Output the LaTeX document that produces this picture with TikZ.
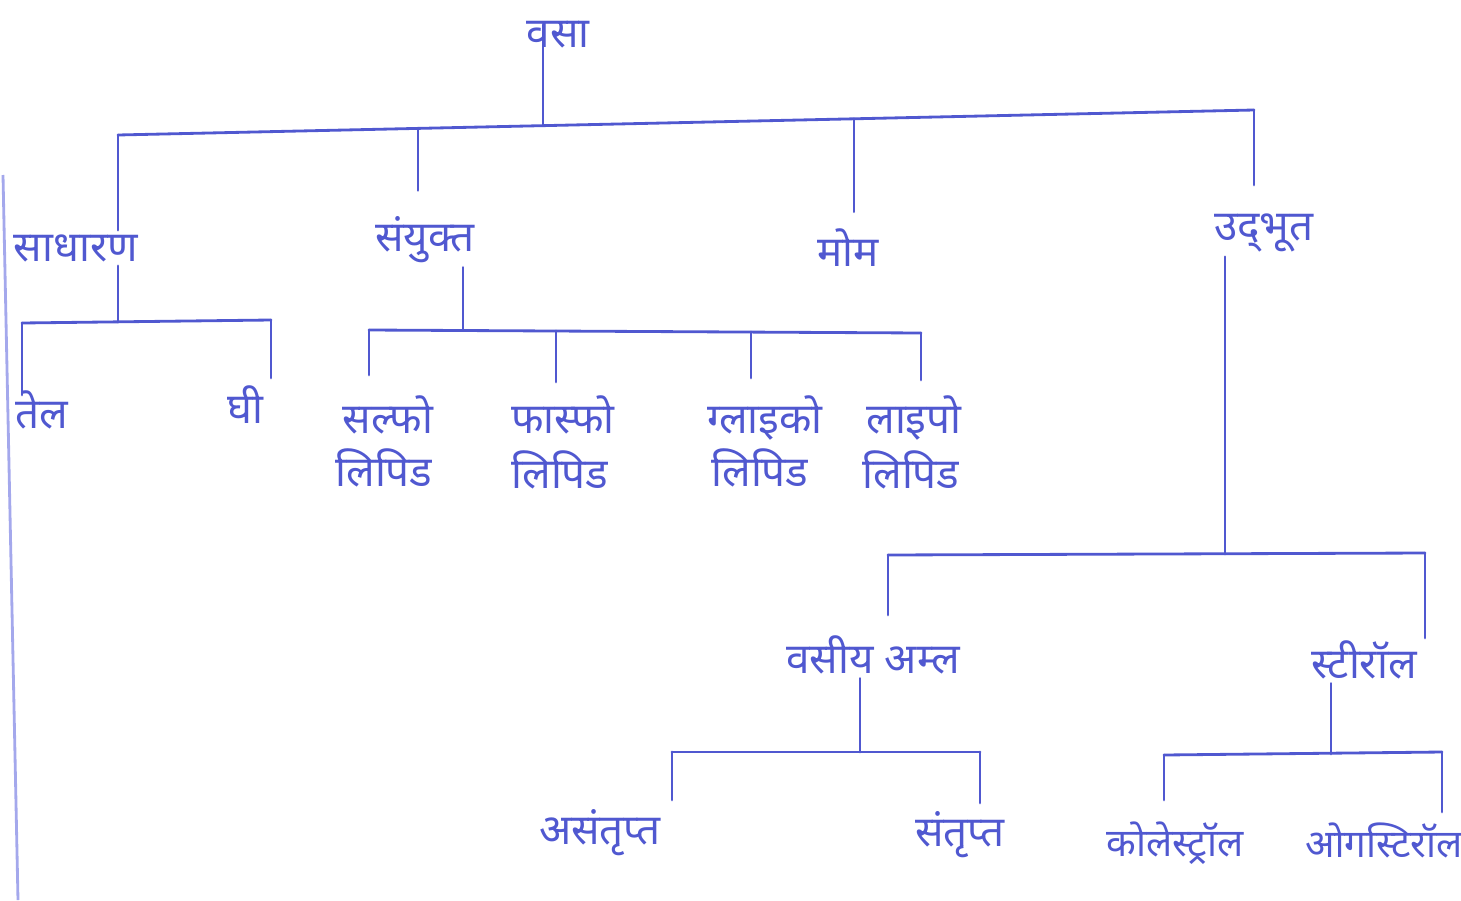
\documentclass[tikz,border=0pt]{standalone}
\usepackage{fontspec}
\usepackage{tikz}
\usepackage{xcolor}
\usetikzlibrary{positioning}
\newfontfamily\deva[Script=Devanagari]{Noto Sans}
\definecolor{ink}{HTML}{5058D0}
\definecolor{rule}{HTML}{A4A8EC}

\begin{document}
\begin{tikzpicture}[x=0.01cm,y=-0.01cm,
    every node/.style={font=\deva\fontsize{12}{14}\selectfont,text=ink}]
      \tikzstyle{w} =[inner sep=1pt];
      \tikzstyle{ws}=[inner sep=1pt,font=\deva\fontsize{11}{13}\selectfont];
      \tikzstyle{ln}=[draw=ink,line width=0.8pt,line cap=round];
      \useasboundingbox (0,0) rectangle (1461,900);
      % margin line of the sheet
      \coordinate (m1) at (3,175);
      \coordinate (m2) at (18,900);
      \draw[rule,line width=0.8pt] (m1) -- (m2);
      % level 0 and 1
      \node[w] (vasa) at (558,35) {वसा};
      \node[w] (sadh) at (76,248) {साधारण};
      \node[w] (sany) at (425,240) {संयुक्त};
      \node[w] (mom)  at (848,248) {मोम};
      \node[w] (udbh) at (1264,233) {उद्‌भूत};
      \coordinate (r0) at (543,25);
      \coordinate (r1) at (543,125.6);
      \coordinate (b1) at (118,135);
      \coordinate (b2) at (418,128.4);
      \coordinate (b3) at (854,118.8);
      \coordinate (b4) at (1254,110);
      \draw[ln] (r0) -- (r1);
      \draw[ln] (b1) -- (b4);
      \draw[ln] (b1) -- (sadh.north -| b1);
      \draw[ln] (b2) -- ++(0,62);
      \draw[ln] (b3) -- ++(0,93);
      \draw[ln] (b4) -- ++(0,75);
      % saadhaaran
      \node[w] (tel) at (42,410) {तेल};
      \node[w] (ghi) at (245,405) {घी};
      \coordinate (s0) at (118,322);
      \coordinate (s1) at (22,323);
      \coordinate (s2) at (271,320);
      \draw[ln] (sadh.south -| s0) -- (s0);
      \draw[ln] (s1) -- (s2);
      \draw[ln] (s1) -- ++(0,72);
      \draw[ln] (s2) -- ++(0,58);
      % sanyukt
      \node[w] (salf) at (388,415) {सल्फो};
      \node[w] (lip1) at (384,468) {लिपिड};
      \node[w] (fasf) at (563,415) {फास्फो};
      \node[w] (lip2) at (560,470) {लिपिड};
      \node[w] (glai) at (765,418) {ग्लाइको};
      \node[w] (lip3) at (760,468) {लिपिड};
      \node[w] (laip) at (914,418) {लाइपो};
      \node[w] (lip4) at (911,470) {लिपिड};
      \coordinate (k0) at (463,330);
      \coordinate (k1) at (369,330);
      \coordinate (k2) at (556,331);
      \coordinate (k3) at (751,332);
      \coordinate (k4) at (921,333);
      \draw[ln] (sany.south -| k0) -- (k0);
      \draw[ln] (k1) -- (k4);
      \draw[ln] (k1) -- ++(0,45);
      \draw[ln] (k2) -- ++(0,51);
      \draw[ln] (k3) -- ++(0,46);
      \draw[ln] (k4) -- ++(0,47);
      % udbhut
      \node[w] (amla) at (873,655) {वसीय अम्ल};
      \node[w] (ster) at (1364,660) {स्टीरॉल};
      \coordinate (u0) at (1225,554);
      \coordinate (u1) at (888,555);
      \coordinate (u2) at (1425,553);
      \draw[ln] (udbh.south -| u0) -- (u0);
      \draw[ln] (u1) -- (u2);
      \draw[ln] (u1) -- ++(0,60);
      \draw[ln] (u2) -- ++(0,85);
      % vasiya amla
      \node[w] (asan) at (600,833) {असंतृप्त};
      \node[w] (sant) at (960,835) {संतृप्त};
      \coordinate (a0) at (860,752);
      \coordinate (a1) at (672,752);
      \coordinate (a2) at (980,752);
      \draw[ln] (amla.south -| a0) -- (a0);
      \draw[ln] (a1) -- (a2);
      \draw[ln] (a1) -- ++(0,48);
      \draw[ln] (a2) -- ++(0,51);
      % steroll
      \node[ws] (kole) at (1175,843) {कोलेस्ट्रॉल};
      \node[ws] (argo) at (1384,840) {ओगस्टिरॉल};
      \coordinate (t0) at (1331,754);
      \coordinate (t1) at (1164,755);
      \coordinate (t2) at (1442,752);
      \draw[ln] (ster.south -| t0) -- (t0);
      \draw[ln] (t1) -- (t2);
      \draw[ln] (t1) -- ++(0,45);
      \draw[ln] (t2) -- ++(0,60);
    \end{tikzpicture}
\end{document}
